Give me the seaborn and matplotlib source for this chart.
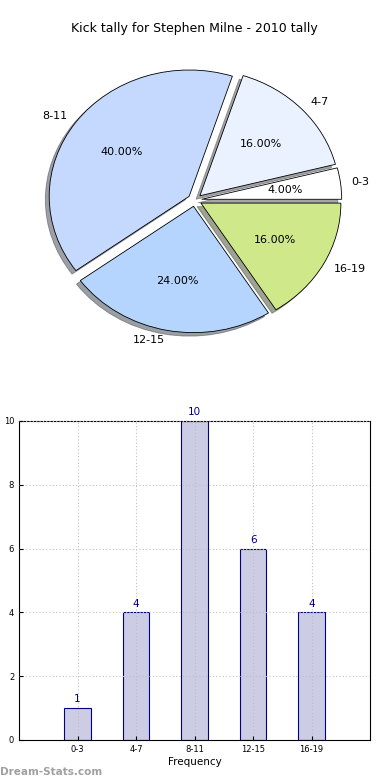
import pandas as pd
import matplotlib
matplotlib.use('Agg')
import matplotlib.pyplot as plt
import seaborn as sns

# kick tally data
ranges = ['0-3', '4-7', '8-11', '12-15', '16-19']
tally = [1, 4, 10, 6, 4]
pie_colors = ['#ffffff', '#eaf1ff', '#c5d9ff', '#b5d5ff', '#cfe98a']

df = pd.DataFrame({'range': ranges, 'tally': tally})

sns.set_style('white')
plt.rcParams['font.family'] = ['DejaVu Sans']
plt.rcParams['text.color'] = 'black'
plt.rcParams['axes.labelcolor'] = 'black'
plt.rcParams['xtick.color'] = 'black'
plt.rcParams['ytick.color'] = 'black'

fig = plt.figure(figsize=(3.9, 7.8), dpi=100)

# pie chart
ax1 = fig.add_axes([0.051, 0.541, 0.897, 0.405])
wedges, texts, autotexts = ax1.pie(df['tally'], labels=df['range'], colors=pie_colors,
                                   explode=[0.05] * len(tally), autopct='%1.2f%%',
                                   shadow=True, startangle=0, labeldistance=1.08,
                                   wedgeprops={'edgecolor': 'black', 'linewidth': 0.6},
                                   textprops={'fontsize': 8, 'color': 'black'})
ax1.set_aspect('auto')
ax1.set_xlim(-1.25, 1.25)
ax1.set_ylim(-1.25, 1.25)
ax1.set_title('Kick tally for Stephen Milne - 2010 tally', fontsize=9, pad=7, color='black')

# bar chart
ax2 = fig.add_axes([0.049, 0.0513, 0.9, 0.409])
sns.barplot(data=df, x='range', y='tally', ax=ax2, width=0.45,
            color='#ccccE5', edgecolor='navy', linewidth=0.8, saturation=1)
for i, v in enumerate(tally):
    ax2.text(i, v + 0.12, str(v), ha='center', va='bottom', color='navy', fontsize=7.5)
ax2.set_xlim(-1, 5)
ax2.set_ylim(0, 10)
ax2.set_yticks([0, 2, 4, 6, 8, 10])
ax2.grid(True, linestyle=(0, (1, 2)), color='#c0c0c0', linewidth=0.8)
ax2.set_axisbelow(False)
ax2.tick_params(labelsize=6, direction='in', length=3, left=True, bottom=True)
ax2.set_xlabel('Frequency', fontsize=7.5, labelpad=2)
ax2.set_ylabel('Kick Tally', fontsize=7.5, labelpad=14)
for s in ax2.spines.values():
    s.set_color('black')
    s.set_linewidth(0.8)

fig.text(0.0, 0.007, 'Dream-Stats.com', color='#a0a0a0', fontsize=7.5, fontweight='bold')

fig.savefig('out.png', dpi=100)
